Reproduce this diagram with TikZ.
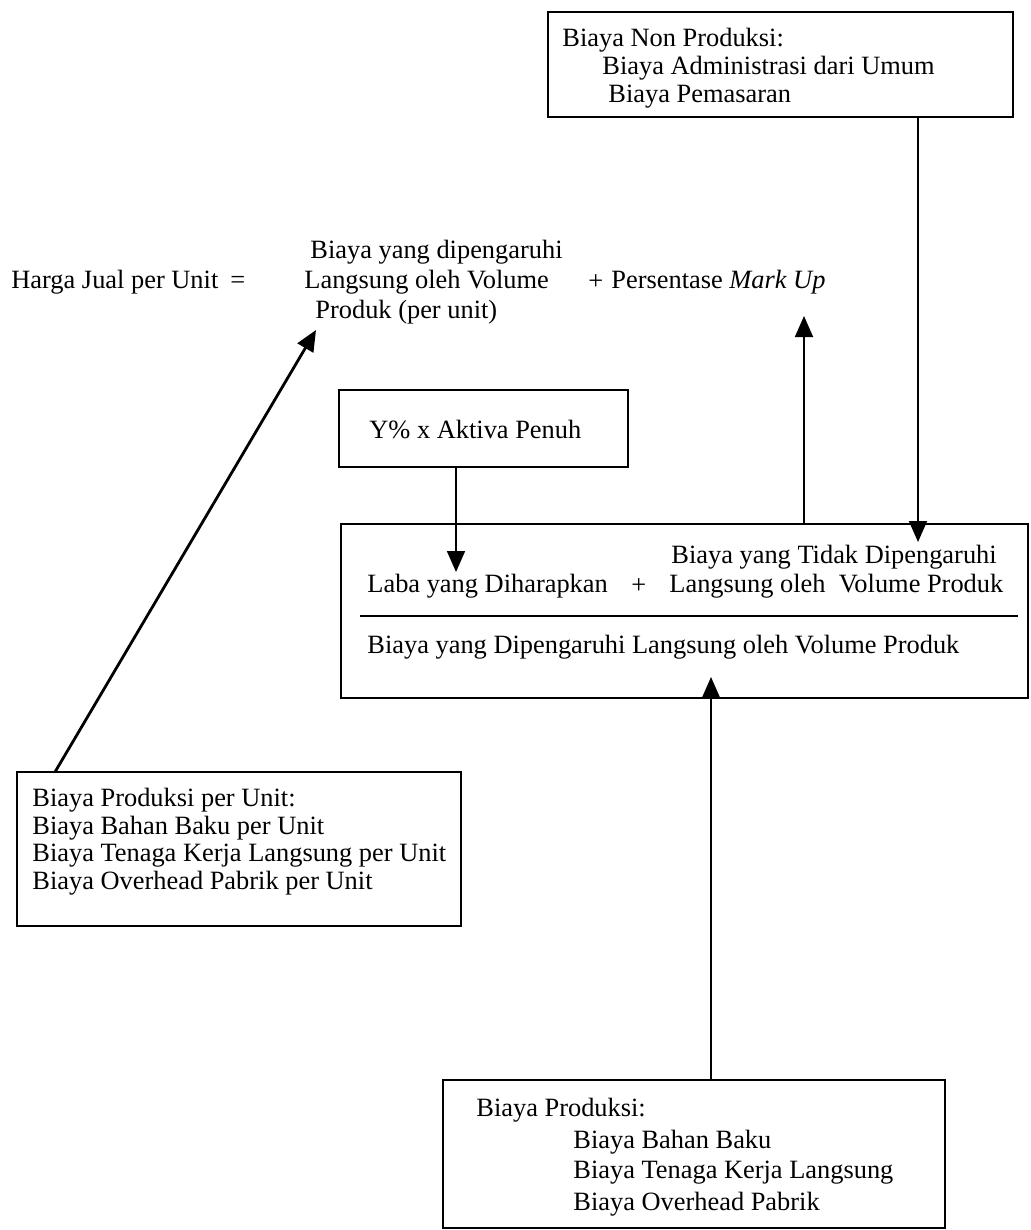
\documentclass[tikz,border=0pt]{standalone}
\usepackage{fontspec}
\setmainfont{Liberation Serif}
\usetikzlibrary{arrows.meta}
\tikzset{
	box/.style={draw, line width=0.9pt, inner sep=0pt, outer sep=0pt, anchor=north west},
	lbl/.style={anchor=west, inner sep=0pt},
	arr/.style={line width=0.9pt, -{Triangle[length=10.5pt,width=9pt]}}
}
\begin{document}
\begin{tikzpicture}[x=0.5pt, y=-0.5pt, every node/.style={font=\fontsize{13.2}{16}\selectfont}]
		\useasboundingbox (0,0) rectangle (1030,1230);
		% boxes
		\node[box, minimum width=232.5pt, minimum height=52.5pt] (nonprod) at (548,12) {};
		\node[box, minimum width=144.5pt, minimum height=38.5pt] (yp) at (339,390) {};
		\node[box, minimum width=343.5pt, minimum height=87pt] (mid) at (341,524) {};
		\node[box, minimum width=222pt, minimum height=77pt] (unit) at (17,772) {};
		\node[box, minimum width=251pt, minimum height=74pt] (prod) at (443,1080) {};
		% non produksi
		\node[lbl] (np1) at (562,40) {Biaya Non Produksi:};
		\node[lbl] (np2) at (602,68) {Biaya Administrasi dari Umum};
		\node[lbl] (np3) at (608,97) {Biaya Pemasaran};
		% rumus harga jual
		\node[lbl] (harga) at (11,282) {Harga Jual per Unit};
		\node[lbl] (eq) at (230,282) {=};
		\node[lbl] (v1) at (310,252) {Biaya yang dipengaruhi};
		\node[lbl] (v2) at (304,282) {Langsung oleh Volume};
		\node[lbl] (v3) at (315,312) {Produk (per unit)};
		\node[lbl] (plus1) at (588,282) {+};
		\node[lbl] (markup) at (611,282) {Persentase \textit{Mark Up}};
		% laba
		\node[lbl] (ytxt) at (369,430) {Y\% x Aktiva Penuh};
		\node[lbl] (tdk1) at (671,557) {Biaya yang Tidak Dipengaruhi};
		\node[lbl] (laba) at (367,586) {Laba yang Diharapkan};
		\node[lbl] (plus2) at (631,586) {+};
		\node[lbl] (tdk2) at (669,586) {Langsung oleh\ \ Volume Produk};
		\node[lbl] (dip) at (367,647) {Biaya yang Dipengaruhi Langsung oleh Volume Produk};
		\draw[line width=0.9pt] (360,616) -- (1018,616);
		% produksi per unit
		\node[lbl] (u1) at (32,800) {Biaya Produksi per Unit:};
		\node[lbl] (u2) at (32,828) {Biaya Bahan Baku per Unit};
		\node[lbl] (u3) at (32,856) {Biaya Tenaga Kerja Langsung per Unit};
		\node[lbl] (u4) at (32,883) {Biaya Overhead Pabrik per Unit};
		% produksi
		\node[lbl] (p1) at (476,1110) {Biaya Produksi:};
		\node[lbl] (p2) at (573,1142) {Biaya Bahan Baku};
		\node[lbl] (p3) at (573,1173) {Biaya Tenaga Kerja Langsung};
		\node[lbl] (p4) at (573,1204) {Biaya Overhead Pabrik};
		% arrows
		\coordinate (tipN) at (918,542);
		\coordinate (tipY) at (456,572);
		\coordinate (tipM) at (804,316);
		\coordinate (tipP) at (711,677);
		\coordinate (tipL) at (316,330);
		\draw[arr] (nonprod.south -| tipN) -- (tipN);
		\draw[arr] (yp.south -| tipY) -- (tipY);
		\draw[arr] (mid.north -| tipM) -- (tipM);
		\draw[arr] (prod.north -| tipP) -- (tipP);
		\draw[arr, line width=1.4pt] ([xshift=19pt]unit.north west) -- (tipL);
	\end{tikzpicture}
\end{document}
